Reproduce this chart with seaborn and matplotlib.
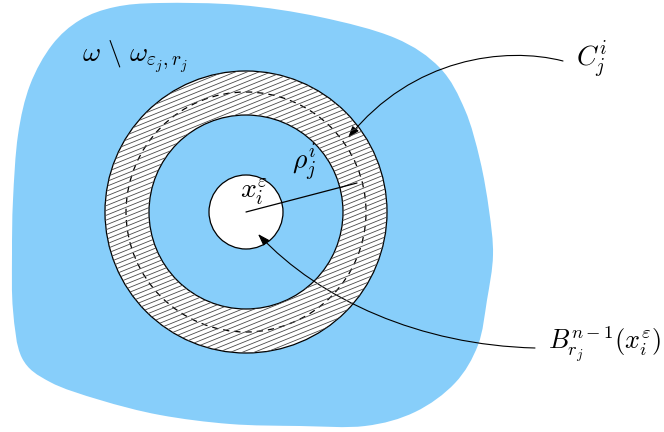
import numpy as np
import seaborn as sns
import matplotlib.pyplot as plt
from matplotlib.path import Path
from matplotlib.patches import PathPatch, Circle, Wedge, FancyArrowPatch

# outline of the blue domain (pixel coordinates, y down)
blob_x = [160, 240, 320, 395, 440, 465, 480, 489, 493, 487, 478, 455, 415, 365, 300, 230, 160, 100,
          50, 22, 13, 12, 13, 18, 30, 52, 80, 115]
blob_y = [3, 5, 17, 38, 68, 110, 160, 210, 255, 300, 345, 383, 412, 426, 426, 424, 415, 400,
          382, 358, 310, 255, 200, 135, 85, 45, 20, 7]

center = (246, 212)
r_hole = 37
r_inner = 97
r_dashed = 120
r_outer = 141
rho_end = (357, 183)

labels = [r"$\omega\ \backslash\ \omega_{\varepsilon_j,r_j}$", r"$C_j^i$", r"$\rho_j^i$",
          r"$x_i^\varepsilon$", r"$B_{r_j}^{n-1}(x_i^\varepsilon)$"]
label_x = [82, 576, 292, 240, 548]
label_y = [57, 60, 163, 192, 345]

arrow_c = [(563, 61), (505, 46), (412, 58), (348, 138)]
arrow_b = [(535, 348), (420, 345), (320, 300), (258, 234)]

sns.set_style("white")
plt.rcParams['mathtext.fontset'] = 'cm'

fig = plt.figure(figsize=(6.64, 4.32), dpi=100)
ax = fig.add_axes([0, 0, 1, 1])
ax.set_xlim(0, 664)
ax.set_ylim(432, 0)
ax.axis('off')


def smooth_closed(xs, ys):
    # catmull-rom through the outline points, handed to matplotlib as cubic beziers
    pts = np.column_stack([xs, ys]).astype(float)
    n = len(pts)
    verts = [pts[0]]
    codes = [Path.MOVETO]
    for i in range(n):
        p0, p1, p2, p3 = pts[i - 1], pts[i], pts[(i + 1) % n], pts[(i + 2) % n]
        verts += [p1 + (p2 - p0) / 6, p2 - (p3 - p1) / 6, p2]
        codes += [Path.CURVE4] * 3
    return Path(verts, codes)


ax.add_patch(PathPatch(smooth_closed(blob_x, blob_y), facecolor="#87cefa", edgecolor="none"))

# hatched ring
ring = Wedge(center, r_outer, 0, 360, width=r_outer - r_inner, facecolor="white", edgecolor="none")
ax.add_patch(ring)
slope = np.tan(np.radians(22))
xx = np.array([center[0] - r_outer - 10, center[0] + r_outer + 10])
for c in np.arange(-250, 250, 4.8):
    ln, = ax.plot(xx, center[1] + c - slope * (xx - center[0]), color="#4a4a4a", lw=0.6)
    ln.set_clip_path(ring)

ax.add_patch(Circle(center, r_outer, fill=False, edgecolor="black", lw=0.9))
ax.add_patch(Circle(center, r_inner, fill=False, edgecolor="black", lw=0.9))
ax.add_patch(Circle(center, r_dashed, fill=False, edgecolor="black", lw=0.9, linestyle=(0, (5, 4))))
ax.add_patch(Circle(center, r_hole, facecolor="white", edgecolor="black", lw=0.9))

ax.plot([center[0], rho_end[0]], [center[1], rho_end[1]], color="black", lw=0.9)

for pts in [arrow_c, arrow_b]:
    p = Path(pts, [Path.MOVETO, Path.CURVE4, Path.CURVE4, Path.CURVE4])
    ax.add_patch(FancyArrowPatch(path=p, arrowstyle="-|>,head_length=0.6,head_width=0.2",
                                 mutation_scale=12, color="black", lw=0.8))

sizes = [20, 20, 20, 20, 19]
for t, x, y, s in zip(labels, label_x, label_y, sizes):
    ax.text(x, y, t, fontsize=s, ha="left", va="center", color="black")

fig.savefig("out.png", dpi=100)
